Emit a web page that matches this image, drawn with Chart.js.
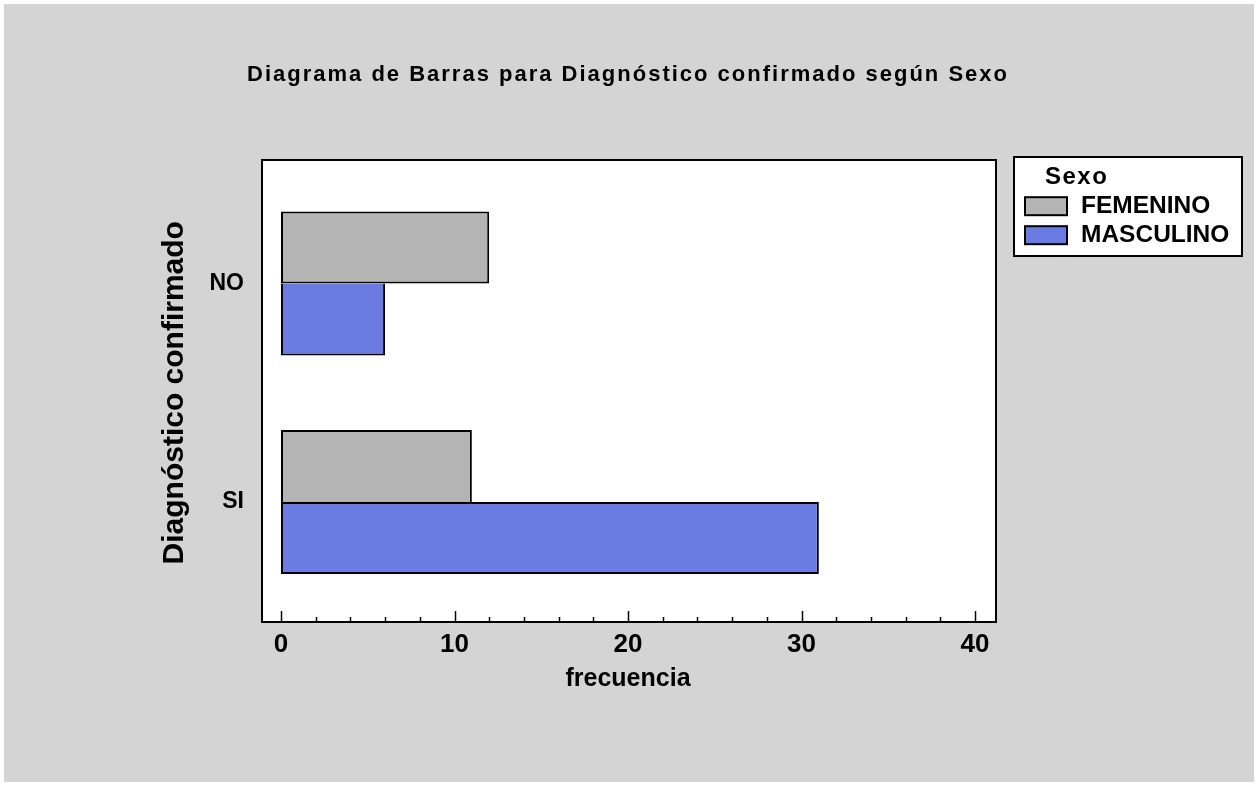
<!DOCTYPE html>
<html>
<head>
<meta charset="utf-8">
<script src="https://cdn.jsdelivr.net/npm/chart.js@4.4.1/dist/chart.umd.min.js"></script>
<style>
  html, body { margin: 0; padding: 0; background: #ffffff; }
  #wrap { width: 1258px; height: 787px; }
</style>
</head>
<body>
<div id="wrap"><canvas id="c" width="1258" height="787"></canvas></div>
<script>
// ---- data ----
const categories = ['NO', 'SI'];
const seriesNames = ['FEMENINO', 'MASCULINO'];
const femenino = [12, 11];
const masculino = [6, 31];
const xMin = 0;
const xMax = 40;
const xMajorStep = 10;
const xMinorStep = 2;
const chartTitle = 'Diagrama de Barras para Diagnóstico confirmado según Sexo';
const xTitle = 'frecuencia';
const yTitle = 'Diagnóstico confirmado';
const legendTitle = 'Sexo';

const FONT = "'Liberation Sans', Arial, Helvetica, sans-serif";
const colors = ['#b4b4b4', '#6a7ce3'];

// Border widths: where two bars of a group touch, only the longer one draws the shared edge
function borderFor(isTop) {
  return function (ctx) {
    const i = ctx.dataIndex;
    const topLonger = femenino[i] >= masculino[i];
    if (isTop) {
      return { top: 2, left: 2, right: 2, bottom: topLonger ? 2 : 0 };
    }
    return { top: topLonger ? 0 : 2, left: 2, right: 2, bottom: 2 };
  };
}

const bgPlugin = {
  id: 'bg',
  beforeDraw(chart) {
    const ctx = chart.ctx;
    const a = chart.chartArea;
    ctx.save();
    ctx.fillStyle = '#ffffff';
    ctx.fillRect(0, 0, chart.width, chart.height);
    ctx.fillStyle = '#d4d4d4';
    ctx.fillRect(4, 4, chart.width - 8, chart.height - 9);
    const fl = a.left - 19, fr = a.right + 21, ft = a.top - 14.25, fb = a.bottom + 10.75;
    ctx.fillStyle = '#ffffff';
    ctx.fillRect(fl, ft, fr - fl, fb - ft);
    ctx.strokeStyle = '#000000';
    ctx.lineWidth = 2;
    ctx.strokeRect(fl, ft, fr - fl, fb - ft);
    ctx.restore();
  },
  afterDraw(chart) {
    const ctx = chart.ctx;
    const a = chart.chartArea;
    const xs = chart.scales.x;
    const fb = a.bottom + 10.75;
    ctx.save();
    ctx.strokeStyle = '#000000';
    ctx.lineWidth = 1.5;
    for (let v = xMin; v <= xMax + 1e-9; v += xMinorStep) {
      const px = Math.round(xs.getPixelForValue(v)) + 0.5;
      const major = Math.abs(v / xMajorStep - Math.round(v / xMajorStep)) < 1e-9;
      const len = major ? 11 : 5;
      ctx.beginPath();
      ctx.moveTo(px, fb);
      ctx.lineTo(px, fb - len);
      ctx.stroke();
    }
    // legend
    const lx = 1014, ly = 157, lw = 228, lh = 99;
    ctx.fillStyle = '#ffffff';
    ctx.fillRect(lx, ly, lw, lh);
    ctx.lineWidth = 2;
    ctx.strokeRect(lx, ly, lw, lh);
    ctx.fillStyle = '#000000';
    ctx.textBaseline = 'middle';
    ctx.textAlign = 'left';
    ctx.font = 'bold 24px ' + FONT;
    try { ctx.letterSpacing = '1.5px'; } catch (e) {}
    ctx.fillText(legendTitle, 1045, 177.7);
    try { ctx.letterSpacing = '0px'; } catch (e) {}
    ctx.font = 'bold 24.5px ' + FONT;
    const rowsY = [206.7, 235.7];
    chart.data.datasets.forEach((ds, i) => {
      const cy = rowsY[i];
      ctx.fillStyle = ds.backgroundColor;
      ctx.fillRect(1025, cy - 9.5, 42, 18);
      ctx.strokeStyle = '#000000';
      ctx.lineWidth = 2;
      ctx.strokeRect(1025, cy - 9.5, 42, 18);
      ctx.fillStyle = '#000000';
      ctx.fillText(ds.label, 1081, cy);
    });
    ctx.restore();
  },
  afterLayout(chart) {
    const t = chart.titleBlock;
    if (t) {
      // centre the title on the whole picture rather than on the padded layout
      t.left = 0;
      t.right = 1256;
      t.width = 1256;
      if (!t._spacedPatch) {
        const orig = t.draw.bind(t);
        t.draw = function () {
          const ctx = chart.ctx;
          ctx.save();
          try { ctx.letterSpacing = '2px'; } catch (e) {}
          orig();
          ctx.restore();
        };
        t._spacedPatch = true;
      }
    }
  }
};

new Chart(document.getElementById('c'), {
  type: 'bar',
  data: {
    labels: categories,
    datasets: [
      { label: seriesNames[0], data: femenino, backgroundColor: colors[0], borderColor: '#000000', borderWidth: borderFor(true), borderSkipped: false },
      { label: seriesNames[1], data: masculino, backgroundColor: colors[1], borderColor: '#000000', borderWidth: borderFor(false), borderSkipped: false }
    ]
  },
  options: {
    indexAxis: 'y',
    responsive: false,
    animation: false,
    devicePixelRatio: 1,
    categoryPercentage: 0.659,
    barPercentage: 1.0,
    layout: { padding: { left: 0, right: 283, top: 0, bottom: 0 } },
    plugins: {
      legend: { display: false },
      tooltip: { enabled: false },
      title: {
        display: true,
        text: chartTitle,
        color: '#000000',
        font: { family: FONT, size: 22, weight: 'bold' },
        padding: { top: 61.5, bottom: 86.35 }
      }
    },
    scales: {
      x: {
        type: 'linear',
        min: xMin,
        max: xMax,
        grid: { display: false, drawTicks: false },
        border: { display: false },
        ticks: {
          stepSize: xMajorStep,
          color: '#000000',
          padding: 18.2,
          font: { family: FONT, size: 26, weight: 'bold' }
        },
        title: {
          display: true,
          text: xTitle,
          color: '#000000',
          font: { family: FONT, size: 25, weight: 'bold' },
          padding: { top: 0, bottom: 93 }
        },
        afterFit(scale) { scale.height = 175.75; }
      },
      y: {
        type: 'category',
        grid: { display: false, drawTicks: false },
        border: { display: false },
        ticks: {
          color: '#000000',
          padding: 37,
          font: { family: FONT, size: 23, weight: 'bold' }
        },
        title: {
          display: true,
          text: yTitle,
          color: '#000000',
          font: { family: FONT, size: 30, weight: 'bold' },
          padding: { top: 156.6, bottom: 0 }
        },
        afterFit(scale) { scale.width = 281; }
      }
    }
  },
  plugins: [bgPlugin]
});
</script>
</body>
</html>
